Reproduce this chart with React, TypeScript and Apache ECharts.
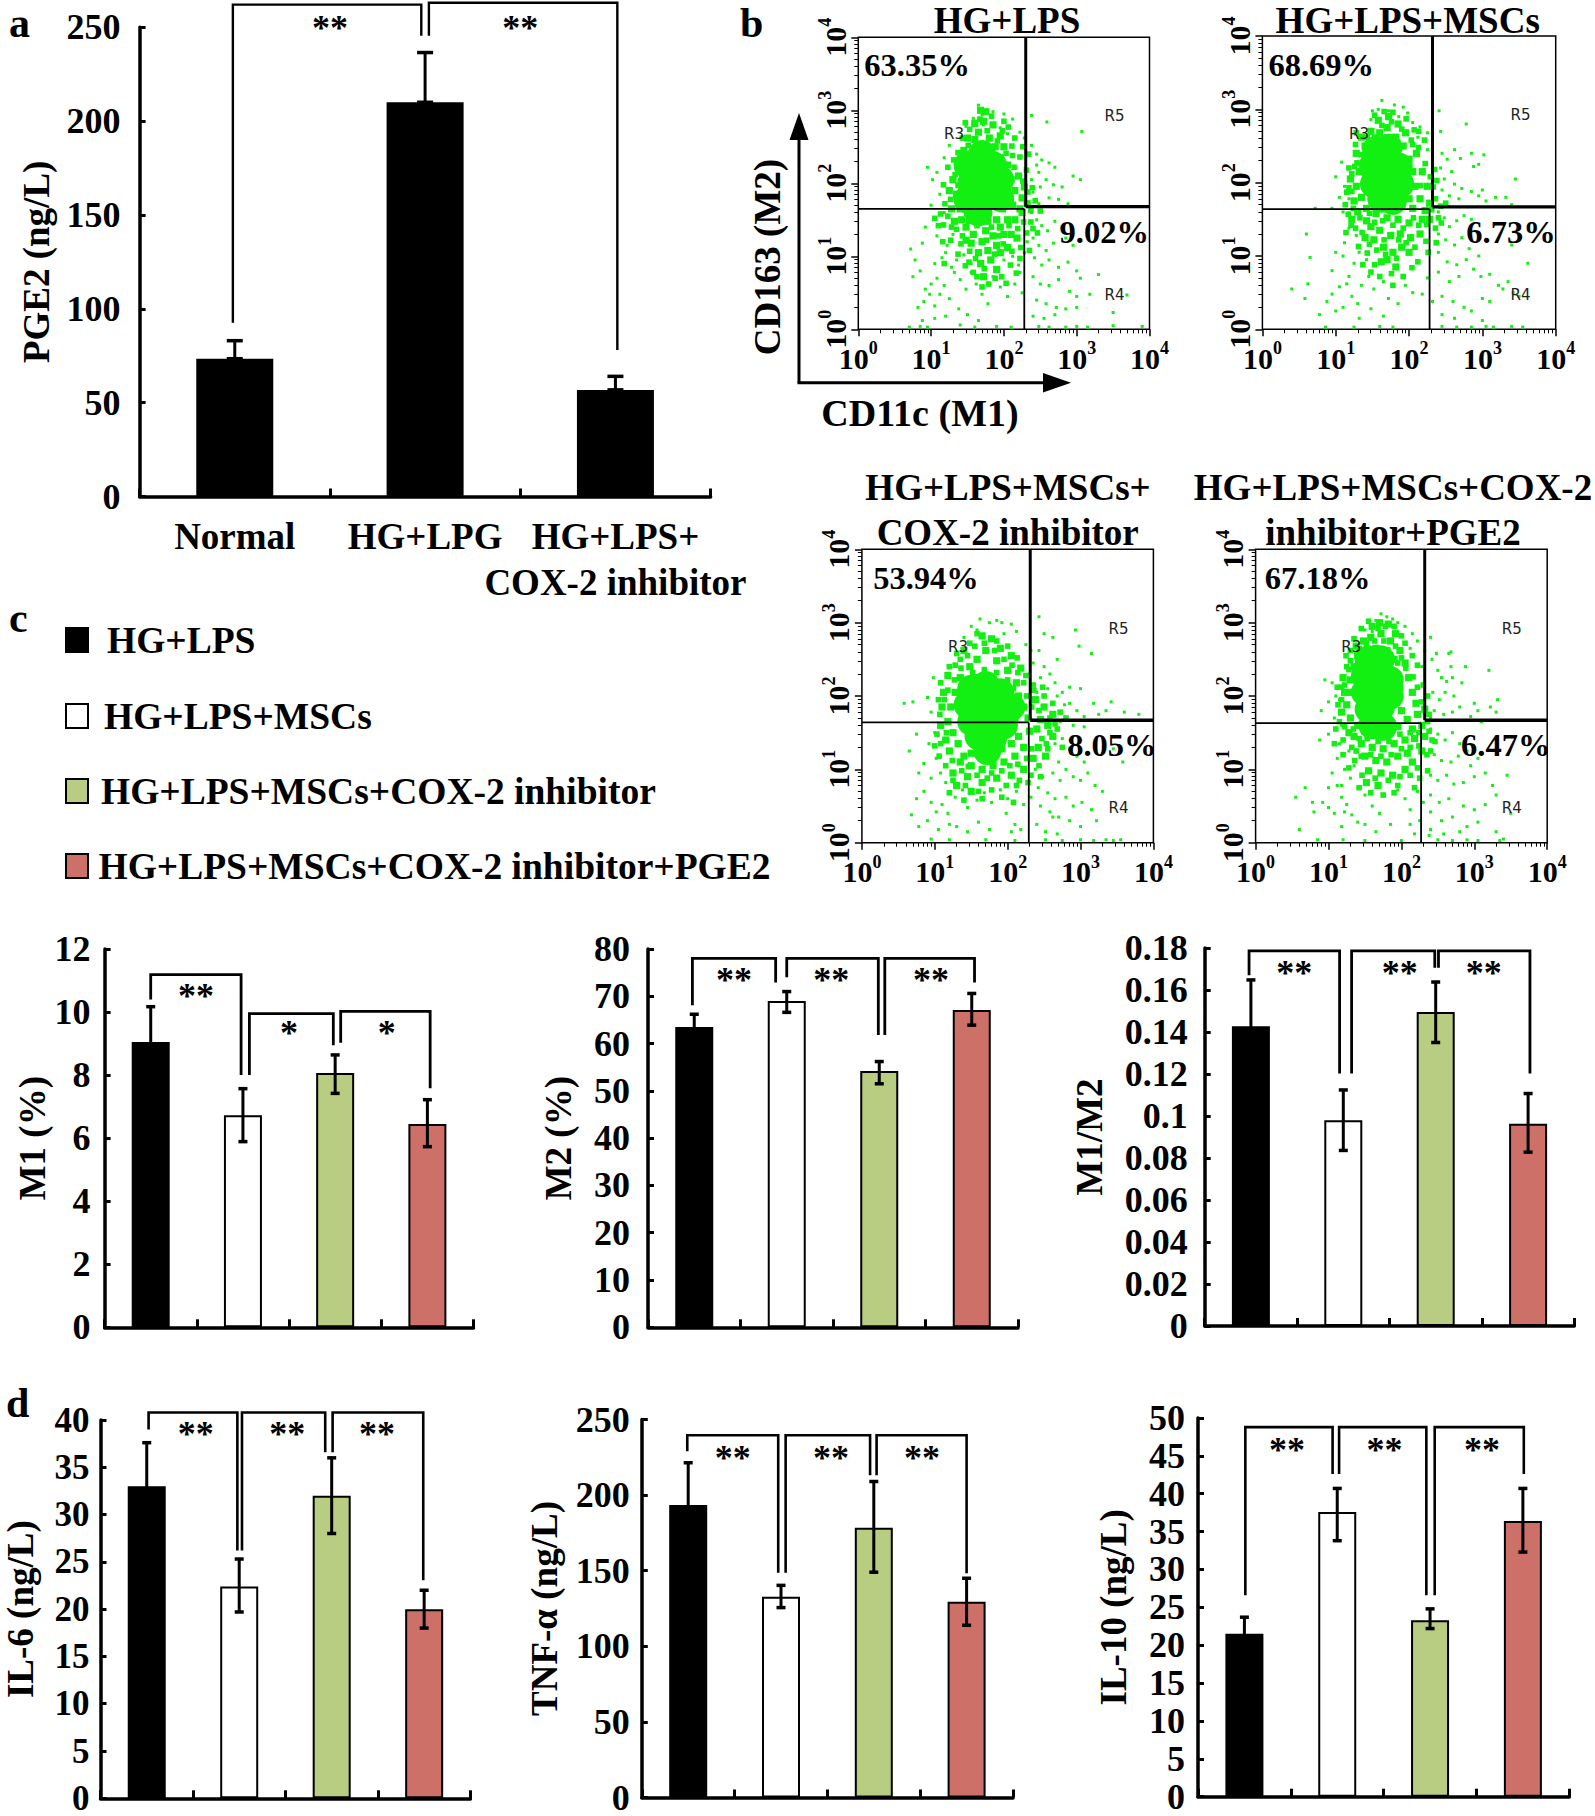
import React, { useEffect, useRef } from "react";
import * as echarts from "echarts";

const SERIF = '"Liberation Serif"';
const groups = ["HG+LPS", "HG+LPS+MSCs", "HG+LPS+MSCs+COX-2 inhibitor", "HG+LPS+MSCs+COX-2 inhibitor+PGE2"];
const groupColors = ["#000000", "#ffffff", "#B8CC82", "#CC7068"];

const pgeCategories = ["Normal", "HG+LPG", "HG+LPS+\nCOX-2 inhibitor"];
const pgeValues = [73.4, 210, 56.8];
const pgeHigh = [83, 236.5, 64];
const pgeLow = [73.4, 210, 56.8];

const m1Values = [9.05, 6.73, 8.07, 6.45];
const m1High = [10.17, 7.57, 8.64, 7.22];
const m1Low = [7.93, 5.89, 7.42, 5.73];
const m2Values = [63.5, 69, 54.2, 67.1];
const m2High = [66.2, 71, 56.2, 70.6];
const m2Low = [60.8, 66.6, 51.5, 63.9];
const ratioValues = [0.1427, 0.098, 0.1495, 0.0963];
const ratioHigh = [0.1648, 0.1124, 0.1638, 0.1107];
const ratioLow = [0.1206, 0.0836, 0.135, 0.0828];
const il6Values = [33, 22.4, 32, 20];
const il6High = [37.6, 25.3, 36, 22];
const il6Low = [28.4, 19.7, 28, 18];
const tnfValues = [193.4, 132.8, 178.4, 129.5];
const tnfHigh = [221.4, 140.3, 209, 145];
const tnfLow = [165.4, 125.6, 149, 113.9];
const il10Values = [21.5, 37.6, 23.3, 36.4];
const il10High = [23.7, 40.7, 24.8, 40.7];
const il10Low = [19.3, 33.8, 22.2, 32.3];

// brackets: [x0, x1, topValue, leftEndValue, rightEndValue, starX, starValue, stars]
const pgeBrackets = [[-0.01, 0.98, 262, 92.5, 245.4, 0.5, 252.5, "**"], [1.02, 2.01, 263, 245.4, 78, 1.5, 252.5, "**"]];
const m1Brackets = [[0, 0.98, 11.19, 10.4, 8, 0.49, 10.68, "**"], [1.07, 1.98, 9.95, 8, 8.95, 1.5, 9.48, "*"], [2.06, 3.03, 10.02, 9.03, 7.58, 2.56, 9.48, "*"]];
const m2Brackets = [[-0.02, 0.88, 78, 68.1, 72.9, 0.43, 74.5, "**"], [1, 1.99, 78, 74, 61.8, 1.48, 74.5, "**"], [2.06, 3.03, 78, 61.8, 72.9, 2.56, 74.5, "**"]];
const ratioBrackets = [[-0.02, 0.96, 0.1786, 0.167, 0.1202, 0.47, 0.1706, "**"], [1.09, 1.99, 0.1786, 0.1202, 0.1706, 1.61, 0.1706, "**"], [2.03, 3.02, 0.1786, 0.1706, 0.1202, 2.52, 0.1706, "**"]];
const il6Brackets = [[0.02, 0.98, 40.8, 39, 26.2, 0.53, 39, "**"], [1.03, 1.93, 40.8, 26.2, 36.6, 1.52, 39, "**"], [2.01, 2.99, 40.8, 36.6, 23.06, 2.49, 39, "**"]];
const tnfBrackets = [[-0.01, 0.97, 239.6, 229, 148.7, 0.48, 228, "**"], [1.05, 1.96, 239.6, 148.7, 213.2, 1.54, 228, "**"], [2.03, 3, 239.6, 213.2, 148.3, 2.52, 228, "**"]];
const il10Brackets = [[0.01, 0.95, 48.8, 26.6, 42.6, 0.46, 46.5, "**"], [1.02, 1.96, 48.8, 42.6, 26.6, 1.51, 46.5, "**"], [2.05, 3.01, 48.8, 26.6, 42.6, 2.56, 46.5, "**"]];

// flow cytometry events, as log10(value) x 100: [CD11c, CD163]
const f1Core = [[150,225],[170,240],[185,225],[155,200],[175,205],[195,205],[150,178],[172,180],[195,180],[165,160]];
const f1Mid = [[140,225],[148,205],[152,180],[145,190],[155,240],[160,260],[165,270],[172,285],[180,262],[188,250],[195,235],[205,225],[210,205],[215,190],[205,180],[212,170],[198,165],[190,150],[178,148],[165,150],[150,160],[140,165],[135,185],[130,205],[160,155],[175,135],[185,128],[195,140],[170,120],[158,130],[148,140],[205,150],[215,150],[222,165],[225,180],[220,210],[228,195],[200,130],[190,115],[178,108],[165,105],[155,118],[168,90],[182,95],[195,105],[210,130],[218,125],[160,282],[175,298],[185,280],[150,262],[168,300],[195,265],[200,250],[145,245],[138,170],[128,165],[125,190],[148,122],[142,150],[132,148],[225,160],[232,172],[205,112],[172,72],[190,82]];
const f1Extra = [[133,212],[143,232],[137,197],[127,178],[147,172],[151,148],[163,142],[173,158],[183,140],[193,128],[207,142],[219,138],[227,147],[233,188],[237,163],[226,203],[214,222],[203,241],[191,258],[177,272],[163,248],[151,252],[143,262],[137,242],[123,222],[117,198],[119,172],[123,155],[135,137],[141,117],[153,107],[161,97],[173,83],[187,103],[199,117],[211,107],[223,112],[231,132],[237,147],[243,176],[239,194],[231,218],[222,236],[211,251],[198,272],[183,292],[167,288],[153,274],[147,283],[131,232],[113,158],[117,143],[127,122],[137,103],[147,87],[163,72],[179,62],[197,72],[209,88],[222,97],[235,108],[143,128],[128,140],[188,70],[203,63],[217,77],[176,122],[152,92],[240,138],[246,132],[250,162],[212,238],[116,120],[110,142],[105,152],[118,90],[200,285],[206,277],[215,262],[226,250],[234,240],[170,58],[158,78]];
const f1Sparse = [[165,307],[185,298],[170,294],[200,295],[212,288],[158,289],[148,278],[222,270],[228,262],[172,280],[195,276],[205,268],[102,205],[95,222],[108,215],[118,235],[125,252],[112,185],[100,170],[118,160],[130,130],[122,115],[108,128],[92,140],[115,98],[105,90],[128,85],[238,293],[259,284],[307,271],[238,252],[245,240],[252,232],[262,228],[270,222],[248,215],[258,205],[268,198],[280,195],[295,210],[305,205],[250,195],[240,188],[262,180],[275,178],[288,172],[248,172],[238,205],[245,225],[238,160],[245,150],[252,142],[260,135],[270,148],[280,140],[240,125],[248,115],[258,108],[268,118],[285,125],[295,115],[242,98],[252,88],[262,95],[275,85],[288,92],[300,80],[305,70],[240,72],[250,62],[262,60],[275,68],[290,52],[300,45],[245,40],[258,35],[272,30],[285,28],[240,18],[255,15],[270,20],[300,30],[318,48],[330,75],[350,23],[369,47],[75,72],[85,80],[92,55],[100,62],[108,70],[98,48],[90,38],[82,30],[105,32],[112,48],[118,60],[125,42],[132,78],[140,68],[148,55],[155,78],[162,62],[170,48],[178,35],[185,72],[195,58],[205,45],[215,62],[225,50],[222,78],[138,28],[150,20],[165,12],[120,18],[105,15],[88,12],[70,3],[85,4],[95,3],[140,6],[160,3],[190,4],[210,3],[248,4],[262,3],[285,3],[300,4],[315,3],[350,5],[390,4],[120,105],[135,95],[145,102],[155,90],[200,95],[212,100],[220,88],[228,105],[232,120],[88,118],[72,110],[78,95]];

const f2Core = [[155,245],[172,248],[150,222],[168,225],[186,222],[152,198],[170,200],[188,198],[162,178],[178,175]];
const f2Mid = [[140,230],[132,215],[128,195],[135,180],[142,165],[150,252],[160,268],[170,275],[182,262],[192,250],[200,232],[205,215],[208,195],[200,178],[190,170],[205,165],[215,178],[222,162],[218,150],[200,145],[185,150],[170,152],[155,158],[142,148],[130,160],[125,175],[120,205],[148,140],[160,135],[175,128],[188,130],[202,125],[215,130],[165,112],[178,105],[190,112],[152,122],[140,125],[158,285],[172,290],[185,280],[148,270],[195,268],[140,250],[128,240],[210,240],[218,215],[225,195],[228,172],[170,95],[182,85],[162,92],[200,105],[228,150],[122,150],[175,170],[150,175],[192,190],[195,210],[145,205],[135,262]];
const f2Extra = [[137,226],[126,222],[118,193],[124,165],[133,152],[146,158],[153,146],[164,148],[178,142],[192,138],[206,152],[213,142],[224,143],[231,163],[236,178],[233,194],[229,208],[222,226],[213,248],[203,258],[190,273],[176,283],[163,278],[153,262],[144,242],[135,238],[129,227],[122,212],[115,187],[113,170],[117,157],[127,138],[136,132],[146,116],[156,108],[168,102],[183,97],[196,118],[208,112],[223,120],[236,138],[240,152],[243,168],[238,203],[235,218],[221,258],[207,272],[196,287],[178,296],[166,297],[153,292],[143,262],[127,252],[121,142],[114,132],[131,113],[143,104],[153,88],[176,76],[192,72],[212,92],[226,105],[237,118],[160,72],[204,84],[178,60],[148,78],[137,88],[166,122],[186,122],[244,145],[250,172],[170,248],[146,222],[216,196],[138,198],[205,252],[213,270],[128,268],[122,188],[118,220]];
const f2Sparse = [[163,312],[180,306],[172,298],[192,303],[198,295],[186,290],[150,298],[158,300],[205,282],[215,276],[225,268],[232,258],[148,286],[212,262],[225,245],[108,228],[100,208],[112,195],[105,180],[118,178],[110,160],[95,165],[118,138],[128,128],[112,118],[132,105],[142,95],[125,90],[72,165],[60,130],[100,105],[65,98],[110,100],[95,80],[118,72],[241,298],[278,280],[243,270],[262,245],[270,233],[285,240],[302,238],[245,240],[252,232],[243,220],[258,215],[248,205],[262,198],[272,192],[285,188],[295,182],[245,190],[255,182],[268,178],[305,175],[318,180],[332,180],[345,205],[295,225],[288,222],[300,190],[340,170],[240,160],[248,152],[255,140],[265,148],[275,155],[285,150],[240,130],[250,122],[262,115],[272,125],[282,110],[295,100],[240,105],[252,92],[265,88],[278,95],[288,82],[298,72],[310,75],[322,60],[240,78],[255,65],[268,72],[335,65],[342,50],[328,55],[300,42],[310,38],[350,45],[362,90],[340,115],[245,45],[260,38],[275,30],[245,20],[262,15],[285,25],[300,12],[95,48],[105,58],[115,62],[122,45],[130,35],[110,30],[100,25],[88,38],[135,60],[145,72],[152,55],[165,65],[172,42],[185,35],[195,60],[205,50],[218,48],[225,70],[232,38],[148,28],[165,18],[132,15],[86,3],[125,3],[160,4],[178,3],[245,4],[265,3],[285,3],[305,4],[315,3],[340,4],[355,3],[58,42],[40,55],[62,62],[78,20]];

const f3Core = [[150,210],[170,215],[190,205],[205,185],[145,188],[168,192],[188,182],[150,165],[172,168],[195,160],[160,145],[180,142],[172,125]];
const f3Mid = [[135,225],[128,205],[122,185],[118,165],[125,150],[132,135],[120,125],[140,118],[150,105],[165,100],[180,105],[195,110],[210,118],[222,130],[215,145],[230,152],[228,170],[222,185],[215,200],[212,218],[200,235],[185,248],[170,262],[158,250],[148,240],[140,262],[178,278],[165,282],[190,265],[205,255],[218,238],[150,122],[135,110],[125,95],[145,90],[165,82],[185,88],[205,92],[222,100],[235,115],[242,130],[240,155],[245,168],[255,160],[262,175],[250,185],[238,195],[262,145],[252,118],[115,140],[108,160],[112,205],[118,228],[110,185],[192,128],[205,135],[138,170],[142,195],[210,170],[160,225],[178,225],[192,215],[130,78],[150,70]];
const f3Extra = [[127,222],[136,238],[128,242],[118,208],[113,195],[107,175],[116,150],[108,135],[124,112],[137,98],[146,104],[158,92],[172,88],[178,95],[192,98],[203,105],[214,107],[226,115],[233,128],[247,142],[253,135],[258,150],[265,162],[258,170],[233,185],[226,200],[222,218],[214,232],[206,242],[195,250],[182,262],[168,272],[155,268],[145,255],[135,250],[152,232],[168,236],[185,232],[200,222],[208,210],[243,180],[250,200],[236,208],[268,155],[272,178],[262,190],[255,128],[243,105],[232,92],[216,85],[198,78],[178,72],[160,70],[142,78],[125,85],[115,105],[106,118],[100,132],[103,148],[105,195],[108,218],[120,240],[130,258],[148,272],[158,285],[185,275],[200,268],[213,252],[225,228],[235,215],[248,212],[140,58],[165,60],[192,62],[212,78],[228,82],[120,68],[208,55],[245,90],[280,170],[275,130]];
const f3Sparse = [[162,305],[185,303],[192,300],[175,300],[205,298],[150,295],[158,290],[212,288],[225,270],[232,262],[195,285],[140,280],[235,245],[230,230],[98,225],[90,198],[95,178],[100,150],[92,135],[75,148],[65,125],[58,190],[70,192],[102,115],[85,108],[108,95],[95,88],[115,82],[78,95],[243,308],[250,285],[262,280],[293,290],[268,250],[298,268],[315,258],[243,262],[250,240],[258,230],[265,218],[275,205],[285,212],[300,210],[285,190],[295,180],[305,172],[318,190],[325,175],[335,180],[342,192],[360,178],[380,175],[268,200],[278,188],[255,210],[245,225],[272,165],[290,160],[305,158],[240,205],[265,135],[275,142],[285,128],[295,118],[305,110],[270,110],[280,100],[290,90],[300,85],[310,95],[320,78],[330,70],[262,95],[272,85],[242,75],[255,68],[265,60],[280,62],[290,50],[302,55],[315,45],[322,30],[238,100],[248,90],[245,50],[258,42],[270,35],[285,30],[300,22],[240,25],[252,15],[268,12],[345,128],[358,110],[262,35],[75,60],[85,70],[95,55],[102,42],[110,52],[118,40],[128,62],[138,72],[145,48],[158,58],[168,68],[178,55],[190,72],[200,60],[212,70],[222,52],[232,62],[198,40],[210,25],[218,18],[130,22],[145,15],[160,28],[175,18],[90,30],[78,22],[68,38],[120,25],[105,18],[205,15],[95,5],[120,4],[170,4],[210,3],[252,4],[275,3],[300,4],[318,3],[335,4],[345,3],[355,4]];

const f4Core = [[155,250],[172,250],[150,228],[168,230],[184,222],[150,205],[168,208],[184,200],[155,182],[172,185],[160,160],[175,158]];
const f4Mid = [[135,240],[130,222],[128,205],[125,188],[130,170],[140,160],[150,152],[165,148],[180,150],[195,158],[208,168],[200,180],[195,195],[198,212],[195,228],[190,250],[180,262],[165,265],[150,262],[140,255],[158,280],[172,285],[185,275],[148,275],[198,262],[205,245],[210,225],[215,205],[220,190],[222,175],[215,155],[135,145],[145,135],[160,130],[175,128],[190,135],[205,140],[218,142],[228,160],[232,182],[150,118],[165,112],[180,110],[195,118],[208,122],[155,98],[172,95],[188,92],[205,100],[170,300],[182,298],[160,295],[192,285],[138,268],[122,205],[118,178],[128,150],[232,145],[120,225],[152,82],[168,78],[215,110],[228,125]];
const f4Extra = [[142,248],[128,236],[122,215],[118,195],[115,165],[122,158],[134,155],[142,142],[153,142],[168,138],[183,138],[198,148],[212,150],[224,150],[236,165],[238,175],[228,192],[222,212],[216,226],[206,238],[200,252],[192,268],[176,275],[163,275],[152,272],[142,265],[130,248],[125,240],[118,212],[113,188],[110,155],[120,140],[138,125],[145,118],[158,120],[172,118],[186,120],[200,128],[212,130],[224,132],[238,152],[242,140],[235,120],[222,102],[212,92],[198,90],[182,85],[164,88],[146,92],[136,112],[128,102],[158,68],[175,65],[195,78],[142,75],[225,88],[135,278],[145,292],[178,295],[205,272],[215,255],[222,242],[230,215],[236,200],[130,262],[124,255],[112,212],[195,245],[155,302],[190,295],[200,282],[168,292],[240,125],[246,138],[218,75],[236,98],[190,68],[132,130],[108,135],[120,120]];
const f4Sparse = [[172,312],[188,305],[165,303],[180,308],[195,300],[205,295],[160,288],[215,285],[222,275],[232,262],[212,265],[228,240],[150,290],[105,218],[95,222],[110,200],[100,192],[115,195],[90,180],[108,170],[118,160],[128,125],[115,135],[100,148],[88,140],[112,115],[122,100],[105,95],[135,105],[130,88],[118,78],[240,280],[248,258],[265,258],[268,240],[242,250],[250,235],[255,225],[262,220],[270,225],[283,218],[243,205],[252,195],[260,205],[272,200],[245,180],[258,175],[270,178],[280,185],[295,172],[300,190],[310,165],[322,185],[332,195],[330,178],[240,170],[288,240],[305,180],[268,260],[320,235],[240,155],[250,148],[260,140],[270,150],[280,135],[290,125],[245,120],[255,112],[268,110],[278,118],[295,105],[305,115],[240,92],[250,85],[262,92],[272,80],[285,82],[300,90],[315,95],[325,78],[345,92],[330,65],[240,65],[252,55],[265,60],[285,50],[300,45],[315,52],[240,42],[255,30],[270,35],[290,22],[305,28],[240,18],[258,12],[280,15],[330,15],[340,5],[350,40],[80,42],[92,55],[100,48],[108,40],[118,62],[125,52],[132,38],[140,28],[100,75],[112,78],[122,42],[150,65],[160,50],[170,40],[185,25],[205,60],[212,45],[222,70],[230,55],[225,30],[238,10],[150,25],[118,22],[165,15],[195,72],[212,25],[218,12],[68,75],[78,55],[55,62],[60,18],[85,4],[120,4],[150,3],[200,3],[250,4],[270,3],[290,4],[305,3],[335,3]];

// gates as log10 x 100: [upper x, lower x, left y, right y]
const f1Gate = [230, 228, 165, 168];
const f2Gate = [232, 228, 164, 167];
const f3Gate = [231, 229, 164, 167];
const f4Gate = [232, 227, 163, 167];
const powers = [1, 10, 100, 1000, 10000];
const minorLogTicks = [1, 10, 100, 1000].flatMap((d) => [2, 3, 4, 5, 6, 7, 8, 9].map((k) => k * d));

const fromLog = (e: number) => Math.pow(10, e / 100);

function buildOption() {
  const grids: any[] = [];
  const xAxes: any[] = [];
  const yAxes: any[] = [];
  const series: any[] = [];

  function addBars(p: any) {
    const g = grids.length;
    grids.push({ left: p.l, top: p.t, width: p.r - p.l, height: p.b - p.t });
    const xCat = xAxes.length;
    xAxes.push({
      type: "category", gridIndex: g, data: p.cats,
      axisLine: { show: true, onZero: false, lineStyle: { color: "#000", width: 3.5 } },
      axisTick: { show: true, interval: 0, alignWithLabel: false, inside: true, length: 8, lineStyle: { color: "#000", width: 3 } },
      axisLabel: p.showCats
        ? { interval: 0, fontFamily: SERIF, fontWeight: "bold", fontSize: 37, color: "#000", lineHeight: 46, margin: 17 }
        : { show: false },
    });
    const xHidden = xAxes.length;
    xAxes.push({ type: "value", gridIndex: g, min: -0.5, max: p.cats.length - 0.5, show: false, axisLine: { onZero: false } });
    const y = yAxes.length;
    const shift = p.shift || 0;
    yAxes.push({
      type: "value", gridIndex: g, min: 0, max: p.max, interval: p.step,
      splitLine: { show: false },
      axisLine: { show: true, onZero: false, lineStyle: { color: "#000", width: 3.5 } },
      axisTick: { show: true, inside: true, length: 6, lineStyle: { color: "#000", width: 3 } },
      axisLabel: {
        fontFamily: SERIF, fontWeight: "bold", fontSize: p.font, color: "#000", margin: p.margin, lineHeight: 30,
        padding: [shift * 2, 0, 0, 0],
        formatter: (v: number) => String(Math.round(v * 100) / 100),
      },
      name: p.name, nameLocation: "middle", nameGap: p.gap,
      nameTextStyle: { fontFamily: SERIF, fontWeight: "bold", fontSize: 37, color: "#000" },
    });
    series.push({
      type: "bar", xAxisIndex: xCat, yAxisIndex: y, barWidth: p.barW,
      data: p.values.map((v: number, i: number) => ({
        value: v,
        itemStyle: { color: p.colors[i], borderColor: "#000", borderWidth: 2 },
      })),
    });
    series.push({
      type: "custom", xAxisIndex: xHidden, yAxisIndex: y, z: 5,
      data: p.values.map((v: number, i: number) => [i, p.high[i], p.low[i]]),
      encode: { x: 0, y: [1, 2] },
      renderItem: (_: any, api: any) => {
        const i = api.value(0);
        const a = api.coord([i, api.value(1)]);
        const b = api.coord([i, api.value(2)]);
        const cap = p.cap;
        const line = (x1: number, y1: number, x2: number, y2: number, w: number) => ({
          type: "line", shape: { x1, y1, x2, y2 }, style: { stroke: "#000", lineWidth: w },
        });
        return {
          type: "group",
          children: [
            line(a[0], a[1], b[0], b[1], 3),
            line(a[0] - cap, a[1], a[0] + cap, a[1], 3.5),
            line(b[0] - cap, b[1], b[0] + cap, b[1], 3.5),
          ],
        };
      },
    });
    series.push({
      type: "custom", xAxisIndex: xHidden, yAxisIndex: y, z: 6,
      data: p.brackets.map((b: any[]) => [b[0], b[2]]),
      renderItem: (params: any, api: any) => {
        const b = p.brackets[params.dataIndex];
        const pts = [api.coord([b[0], b[3]]), api.coord([b[0], b[2]]), api.coord([b[1], b[2]]), api.coord([b[1], b[4]])];
        const s = api.coord([b[5], b[6]]);
        return {
          type: "group",
          children: [
            { type: "polyline", shape: { points: pts }, style: { stroke: "#000", lineWidth: p.bw, fill: "none" } },
            { type: "text", style: { text: b[7], x: s[0], y: s[1] + 5, fill: "#000", font: `bold 36px ${SERIF}`, align: "center", verticalAlign: "middle" } },
          ],
        };
      },
    });
  }

  function addFlow(p: any) {
    const g = grids.length;
    grids.push({
      left: p.l, top: p.t, width: p.r - p.l, height: p.b - p.t,
      show: true, borderColor: "#000", borderWidth: 1.5, backgroundColor: "transparent",
    });
    const richLabel = {
      b: { fontFamily: SERIF, fontWeight: "bold", fontSize: 30, color: "#000", lineHeight: 34, verticalAlign: "bottom" },
      s: { fontFamily: SERIF, fontWeight: "bold", fontSize: 18, color: "#000", lineHeight: 18, verticalAlign: "top" },
    };
    const fmt = (v: number) => `{b|10}{s|${Math.round(Math.log10(v))}}`;
    const x0 = xAxes.length;
    xAxes.push({
      type: "log", logBase: 10, gridIndex: g, min: 1, max: 10000, position: "bottom",
      splitLine: { show: false }, minorTick: { show: false },
      axisLine: { show: false },
      axisTick: { show: true, length: 7, customValues: powers, lineStyle: { color: "#000", width: 1.5 } },
      axisLabel: { customValues: powers, formatter: fmt, rich: richLabel, margin: 10, hideOverlap: false },
    });
    xAxes.push({
      type: "log", logBase: 10, gridIndex: g, min: 1, max: 10000, position: "bottom",
      splitLine: { show: false },
      axisLine: { show: false },
      axisTick: { show: true, length: 4, customValues: minorLogTicks, lineStyle: { color: "#000", width: 1 } },
      axisLabel: { show: false },
    });
    const y0 = yAxes.length;
    yAxes.push({
      type: "log", logBase: 10, gridIndex: g, min: 1, max: 10000, position: "left",
      splitLine: { show: false }, minorTick: { show: false },
      axisLine: { show: false },
      axisTick: { show: true, length: 7, customValues: powers, lineStyle: { color: "#000", width: 1.5 } },
      axisLabel: { customValues: powers, formatter: fmt, rich: richLabel, margin: 8, rotate: 90, hideOverlap: false },
    });
    yAxes.push({
      type: "log", logBase: 10, gridIndex: g, min: 1, max: 10000, position: "left",
      splitLine: { show: false },
      axisLine: { show: false },
      axisTick: { show: true, length: 4, customValues: minorLogTicks, lineStyle: { color: "#000", width: 1 } },
      axisLabel: { show: false },
    });
    const pts = (list: number[][]) => list.map((d) => [fromLog(d[0]), fromLog(d[1])]);
    const green = "#12F012";
    const tiers: any[] = [[p.sparse, 3, "rect"], [p.extra, 5.6, "rect"], [p.mid, 7.2, "rect"], [p.core, 28, "circle"]];
    tiers.forEach(([list, size, symbol]) => {
      series.push({
        type: "scatter", xAxisIndex: x0, yAxisIndex: y0, symbol, symbolSize: size,
        itemStyle: { color: green, opacity: 1 }, data: pts(list), z: 2, silent: true,
      });
    });
    const [ux, lx, ly, ry] = p.gate.map(fromLog);
    const gateLine = (data: number[][], width: number) => ({
      type: "line", xAxisIndex: x0, yAxisIndex: y0, showSymbol: false, symbol: "none", z: 4,
      lineStyle: { color: "#000", width }, data, silent: true,
    });
    series.push(gateLine([[ux, 10000], [ux, ry]], 3));
    series.push(gateLine([[lx, ly], [lx, 1]], 1.8));
    series.push(gateLine([[1, ly], [lx, ly]], 1.8));
    series.push(gateLine([[ux, ry], [10000, ry]], 3.4));
  }

  const cats4 = groups;
  addBars({ l: 139.6, r: 710.6, t: 27.2, b: 496.5, cats: pgeCategories, showCats: true, values: pgeValues, high: pgeHigh, low: pgeLow, colors: ["#000", "#000", "#000"], max: 250, step: 50, font: 36, margin: 19, name: "PGE2 (ng/L)", gap: 85, barW: 77, cap: 8, bw: 2.4, brackets: pgeBrackets });
  addBars({ l: 104.6, r: 473.5, t: 949, b: 1327.3, cats: cats4, values: m1Values, high: m1High, low: m1Low, colors: groupColors, max: 12, step: 2, font: 36, margin: 14, shift: 5, name: "M1 (%)", gap: 52, barW: 38, cap: 4.5, bw: 2.8, brackets: m1Brackets });
  addBars({ l: 648, r: 1018, t: 949, b: 1327.3, cats: cats4, values: m2Values, high: m2High, low: m2Low, colors: groupColors, max: 80, step: 10, font: 36, margin: 18, name: "M2 (%)", gap: 71, barW: 38, cap: 4.5, bw: 2.8, brackets: m2Brackets });
  addBars({ l: 1204.7, r: 1574.3, t: 948, b: 1326, cats: cats4, values: ratioValues, high: ratioHigh, low: ratioLow, colors: groupColors, max: 0.18, step: 0.02, font: 36, margin: 17, shift: 2, name: "M1/M2", gap: 97, barW: 38, cap: 4.5, bw: 2.8, brackets: ratioBrackets });
  addBars({ l: 100.5, r: 470.4, t: 1420, b: 1798.3, cats: cats4, values: il6Values, high: il6High, low: il6Low, colors: groupColors, max: 40, step: 5, font: 35, margin: 11, shift: 0, name: "IL-6 (ng/L)", gap: 62, barW: 38, cap: 4.5, bw: 2.6, brackets: il6Brackets });
  addBars({ l: 641.8, r: 1013, t: 1419.5, b: 1797.5, cats: cats4, values: tnfValues, high: tnfHigh, low: tnfLow, colors: groupColors, max: 250, step: 50, font: 36, margin: 12, shift: 1, name: "TNF-α (ng/L)", gap: 79, barW: 38, cap: 4.5, bw: 2.6, brackets: tnfBrackets });
  addBars({ l: 1198, r: 1569.3, t: 1418, b: 1796.7, cats: cats4, values: il10Values, high: il10High, low: il10Low, colors: groupColors, max: 50, step: 5, font: 36, margin: 13, shift: 3, name: "IL-10 (ng/L)", gap: 66, barW: 38, cap: 4.5, bw: 2.6, brackets: il10Brackets });

  addFlow({ l: 858.3, r: 1149.5, t: 37.3, b: 329.3, core: f1Core, mid: f1Mid, extra: f1Extra, sparse: f1Sparse, gate: f1Gate });
  addFlow({ l: 1262.4, r: 1555.7, t: 36, b: 329.3, core: f2Core, mid: f2Mid, extra: f2Extra, sparse: f2Sparse, gate: f2Gate });
  addFlow({ l: 861.9, r: 1153.4, t: 549.3, b: 842.7, core: f3Core, mid: f3Mid, extra: f3Extra, sparse: f3Sparse, gate: f3Gate });
  addFlow({ l: 1255.6, r: 1547.2, t: 549.3, b: 842.7, core: f4Core, mid: f4Mid, extra: f4Extra, sparse: f4Sparse, gate: f4Gate });

  const label = (text: string, x: number, y: number, size: number, align = "center", rotation = 0, weight = "bold") => ({
    type: "text", x, y, rotation, z: 100,
    style: { text, fill: "#000", font: `${weight} ${size}px ${SERIF}`, align, verticalAlign: "middle" },
  });
  const gating = (text: string, x: number, y: number) => ({
    type: "text", x, y, z: 100,
    style: { text, fill: "#222", font: `15px "DejaVu Sans"`, align: "center", verticalAlign: "middle" },
  });
  const swatch = (i: number, y: number) => ({
    type: "rect", shape: { x: 66, y: y - 12, width: 22, height: 24 }, z: 100,
    style: { fill: groupColors[i], stroke: "#000", lineWidth: 2 },
  });

  const graphic: any[] = [
    label("a", 9, 23, 42, "left"), label("b", 740, 23, 42, "left"), label("c", 9, 618, 42, "left"), label("d", 6, 1403, 42, "left"),
    label("HG+LPS", 1007, 20, 37), label("HG+LPS+MSCs", 1407.7, 20, 37),
    label("HG+LPS+MSCs+", 1008, 487, 37), label("COX-2 inhibitor", 1007.7, 532, 37),
    label("HG+LPS+MSCs+COX-2", 1393, 487, 37), label("inhibitor+PGE2", 1393, 532, 37),
    label("63.35%", 864.3, 65, 32.5, "left"), label("9.02%", 1059.5, 232, 32.5, "left"),
    label("68.69%", 1268.4, 65, 32.5, "left"), label("6.73%", 1466.3, 232, 32.5, "left"),
    label("53.94%", 873.2, 578, 32.5, "left"), label("8.05%", 1067.2, 745, 32.5, "left"),
    label("67.18%", 1264.8, 578, 32.5, "left"), label("6.47%", 1461, 745, 32.5, "left"),
    gating("R3", 954, 134), gating("R5", 1114.5, 116), gating("R4", 1114.5, 295),
    gating("R3", 1359, 134), gating("R5", 1520.5, 115), gating("R4", 1520.5, 295),
    gating("R3", 958, 646.7), gating("R5", 1118.5, 629), gating("R4", 1118.5, 808),
    gating("R3", 1351.3, 646.7), gating("R5", 1511.7, 629), gating("R4", 1511.7, 808),
    label("CD163 (M2)", 767, 257, 37, "center", Math.PI / 2),
    label("CD11c (M1)", 920, 413, 38),
    { type: "line", z: 100, shape: { x1: 799, y1: 382.7, x2: 799, y2: 135 }, style: { stroke: "#000", lineWidth: 3 } },
    { type: "line", z: 100, shape: { x1: 797.5, y1: 382.7, x2: 1045, y2: 382.7 }, style: { stroke: "#000", lineWidth: 3 } },
    { type: "polygon", z: 100, shape: { points: [[799, 113], [789.5, 140], [808.5, 140]] }, style: { fill: "#000" } },
    { type: "polygon", z: 100, shape: { points: [[1071, 382.7], [1043, 373], [1043, 392.5]] }, style: { fill: "#000" } },
    swatch(0, 640), swatch(1, 716), swatch(2, 791), swatch(3, 866),
    label(groups[0], 107, 640, 37.5, "left"), label(groups[1], 104, 716, 37.5, "left"),
    label(groups[2], 101, 791, 37.5, "left"), label(groups[3], 98.5, 866, 37.5, "left"),
  ];

  return { animation: false, backgroundColor: "#fff", grid: grids, xAxis: xAxes, yAxis: yAxes, series, graphic };
}

export default function App() {
  const ref = useRef<HTMLDivElement>(null);
  useEffect(() => {
    document.body.style.margin = "0";
    const chart = echarts.init(ref.current!, undefined, { renderer: "svg" });
    chart.setOption(buildOption() as any);
    return () => chart.dispose();
  }, []);
  return <div ref={ref} style={{ position: "absolute", left: 0, top: 0, width: 1595, height: 1816 }} />;
}
